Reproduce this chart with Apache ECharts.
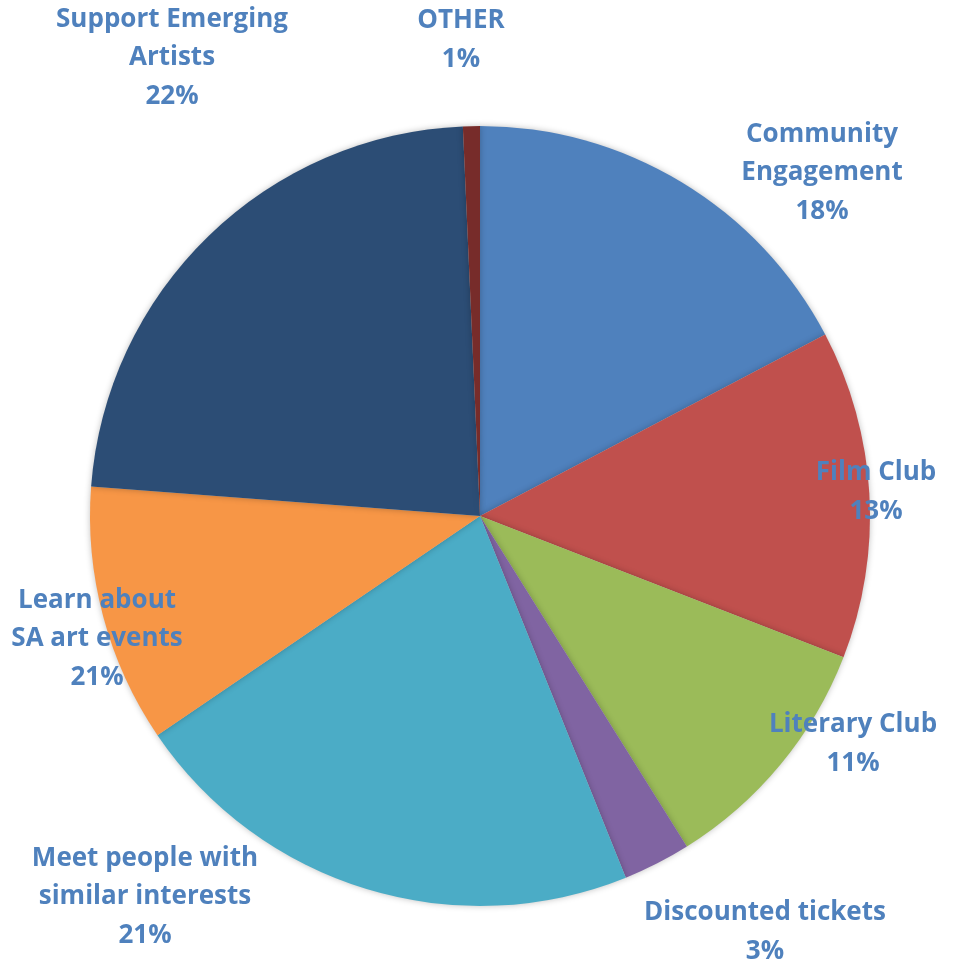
<!DOCTYPE html>
<html>
<head>
<meta charset="utf-8">
<script src="https://cdn.jsdelivr.net/npm/echarts@6/dist/echarts.min.js"></script>
<style>
html,body{margin:0;padding:0;background:#fff;}
#chart{width:963px;height:965px;}
</style>
</head>
<body>
<div id="chart"></div>
<script>
// Categories (clockwise from 12 o'clock)
const categories = [
  'Community\nEngagement',
  'Film Club',
  'Literary Club',
  'Discounted tickets',
  'Meet people with\nsimilar interests',
  'Learn about\nSA art events',
  'Support Emerging\nArtists',
  'OTHER'
];
// Slice sizes (share of the circle, %)
const values = [17.3, 13.6, 10.2, 2.8, 21.6, 10.7, 23.1, 0.7];
// Percent labels exactly as printed in the reference
const pctLabels = ['18%', '13%', '11%', '3%', '21%', '21%', '22%', '1%'];
const colors = ['#4F81BD', '#C0504D', '#9BBB59', '#8064A2', '#4BACC6', '#F79646', '#2C4D75', '#772C2A'];
// Label anchor points (text block centres), px
const labelX = [822, 876, 853, 765, 145, 97, 172, 461];
const labelY = [173, 492, 744, 932, 897, 639, 58, 40];

const chart = echarts.init(document.getElementById('chart'), null, {renderer: 'canvas'});
chart.setOption({
  animation: false,
  backgroundColor: '#ffffff',
  series: [{
    type: 'pie',
    center: [480, 516],
    radius: [0, 390],
    startAngle: 90,
    clockwise: true,
    avoidLabelOverlap: false,
    data: categories.map((c, i) => ({
      name: c,
      value: values[i],
      itemStyle: {color: colors[i]}
    })),
    itemStyle: {
      borderWidth: 0,
      shadowBlur: 6,
      shadowColor: 'rgba(0,0,0,0.25)'
    },
    label: {
      show: true,
      position: 'outside',
      formatter: p => p.name + '\n' + pctLabels[p.dataIndex],
      color: '#4F81BD',
      fontFamily: 'Open Sans',
      fontWeight: 'bold',
      fontSize: 26,
      lineHeight: 38.5,
      align: 'center'
    },
    labelLine: {show: false},
    labelLayout: p => ({
      x: labelX[p.dataIndex],
      y: labelY[p.dataIndex],
      align: 'center',
      verticalAlign: 'middle'
    })
  }]
});
</script>
</body>
</html>
